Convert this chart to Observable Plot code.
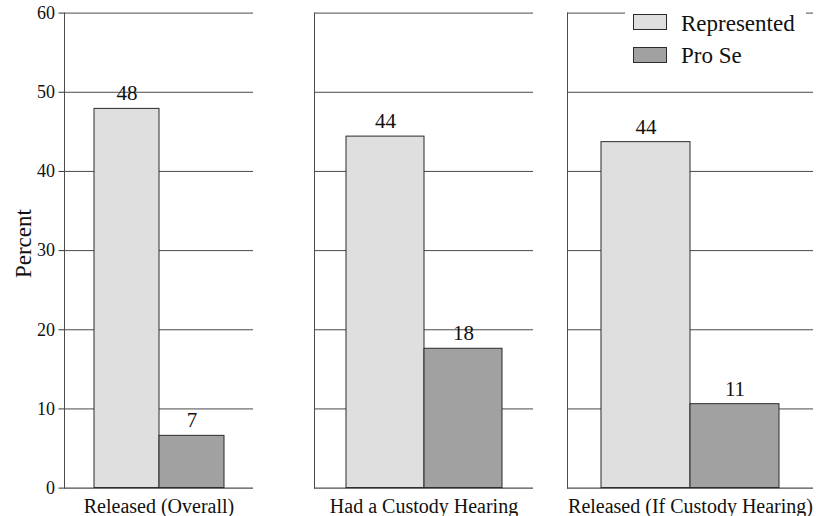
<!DOCTYPE html>
<html>
<head>
<meta charset="utf-8">
<script src="https://cdn.jsdelivr.net/npm/d3@7"></script>
<script src="https://cdn.jsdelivr.net/npm/@observablehq/plot@0.6"></script>
<style>
  body { margin: 0; background: #fff; }
  #chart { position: relative; width: 816px; height: 516px; overflow: hidden; font-family: "Liberation Serif", serif; color: #000; background: #fff; }
  .panel { position: absolute; top: 0; }
  .panel text { font-family: "Liberation Serif", serif; }
  .legend-bg { position: absolute; left: 625px; top: 2px; width: 181px; height: 72px; background: #fff; }
  .sw { position: absolute; box-sizing: border-box; width: 34px; height: 16px; border: 1px solid #2a2a2a; }
  .lt { position: absolute; font-size: 23px; line-height: 23px; white-space: nowrap; color: #111; }
</style>
</head>
<body>
<div id="chart"></div>
<script>
// ---- data ----
const categories = ["Released (Overall)", "Had a Custody Hearing", "Released (If Custody Hearing)"];
const series = ["Represented", "Pro Se"];
const represented = [47.9, 44.4, 43.7];
const proSe = [6.6, 17.6, 10.6];
const yTicks = [0, 10, 20, 30, 40, 50, 60];
const yLabel = "Percent";
const colors = ["#dfdfdf", "#a1a1a1"];

// ---- layout ----
const panelLayout = [
  {left: 0,   width: 253, marginLeft: 64, pad: 0.437, axis: true},
  {left: 304, width: 229, marginLeft: 10, pad: 0.401, axis: false},
  {left: 557, width: 256, marginLeft: 10, pad: 0.37,  axis: false}
];

const chart = document.getElementById("chart");
const font = "'Liberation Serif', serif";

categories.forEach((cat, i) => {
  const L = panelLayout[i];
  const rows = series.map((s, j) => ({series: s, value: j === 0 ? represented[i] : proSe[i]}));
  const marks = [
    Plot.ruleY(yTicks.filter(d => d > 0), {stroke: "#4a4a4a", strokeWidth: 1}),
    Plot.barY(rows, {x: "series", y: "value", fill: "series", stroke: "#2a2a2a", strokeWidth: 1}),
    Plot.text(rows, {x: "series", y: "value", text: d => String(Math.round(d.value)), lineAnchor: "bottom", dy: -8.5, fontSize: 21, fontFamily: font, fill: "#111"}),
    Plot.ruleY([0], {stroke: "#222", strokeWidth: 1}),
    Plot.frame({anchor: "left", stroke: "#4a4a4a", strokeWidth: 1}),
    Plot.text([cat], {text: d => d, frameAnchor: "bottom", dy: 25, lineAnchor: "bottom", textAnchor: "middle", fontSize: 20, fontFamily: font, fill: "#111"})
  ];
  if (L.axis) {
    marks.push(Plot.axisY(yTicks, {tickSize: 5.5, tickPadding: 4, fontSize: 18, fontFamily: font, fontVariant: "normal", label: null, stroke: "#333", color: "#111"}));
    marks.push(Plot.text([yLabel], {text: d => d, frameAnchor: "left", textAnchor: "middle", lineAnchor: "middle", dx: -41, dy: -7, rotate: -90, fontSize: 23, fontFamily: font, fill: "#111"}));
  }
  const svg = Plot.plot({
    width: L.width,
    height: 516,
    marginLeft: L.marginLeft,
    marginRight: 0,
    marginTop: 12.6,
    marginBottom: 28.4,
    style: {fontFamily: font, fontSize: "18px", overflow: "visible", background: "transparent", color: "#111"},
    x: {domain: series, paddingInner: 0, paddingOuter: L.pad, axis: null},
    y: L.axis ? {domain: [0, 60]} : {domain: [0, 60], axis: null},
    color: {domain: series, range: colors},
    marks
  });
  svg.classList.add("panel");
  svg.style.left = L.left + "px";
  chart.appendChild(svg);
});

// ---- legend (overlay, top right) ----
const bg = document.createElement("div");
bg.className = "legend-bg";
chart.appendChild(bg);
series.forEach((s, j) => {
  const sw = document.createElement("div");
  sw.className = "sw";
  sw.style.left = "633px";
  sw.style.top = (14 + j * 32.7) + "px";
  sw.style.background = colors[j];
  chart.appendChild(sw);
  const t = document.createElement("div");
  t.className = "lt";
  t.style.left = "681px";
  t.style.top = (12.4 + j * 31.6) + "px";
  t.textContent = s;
  chart.appendChild(t);
});
</script>
</body>
</html>
